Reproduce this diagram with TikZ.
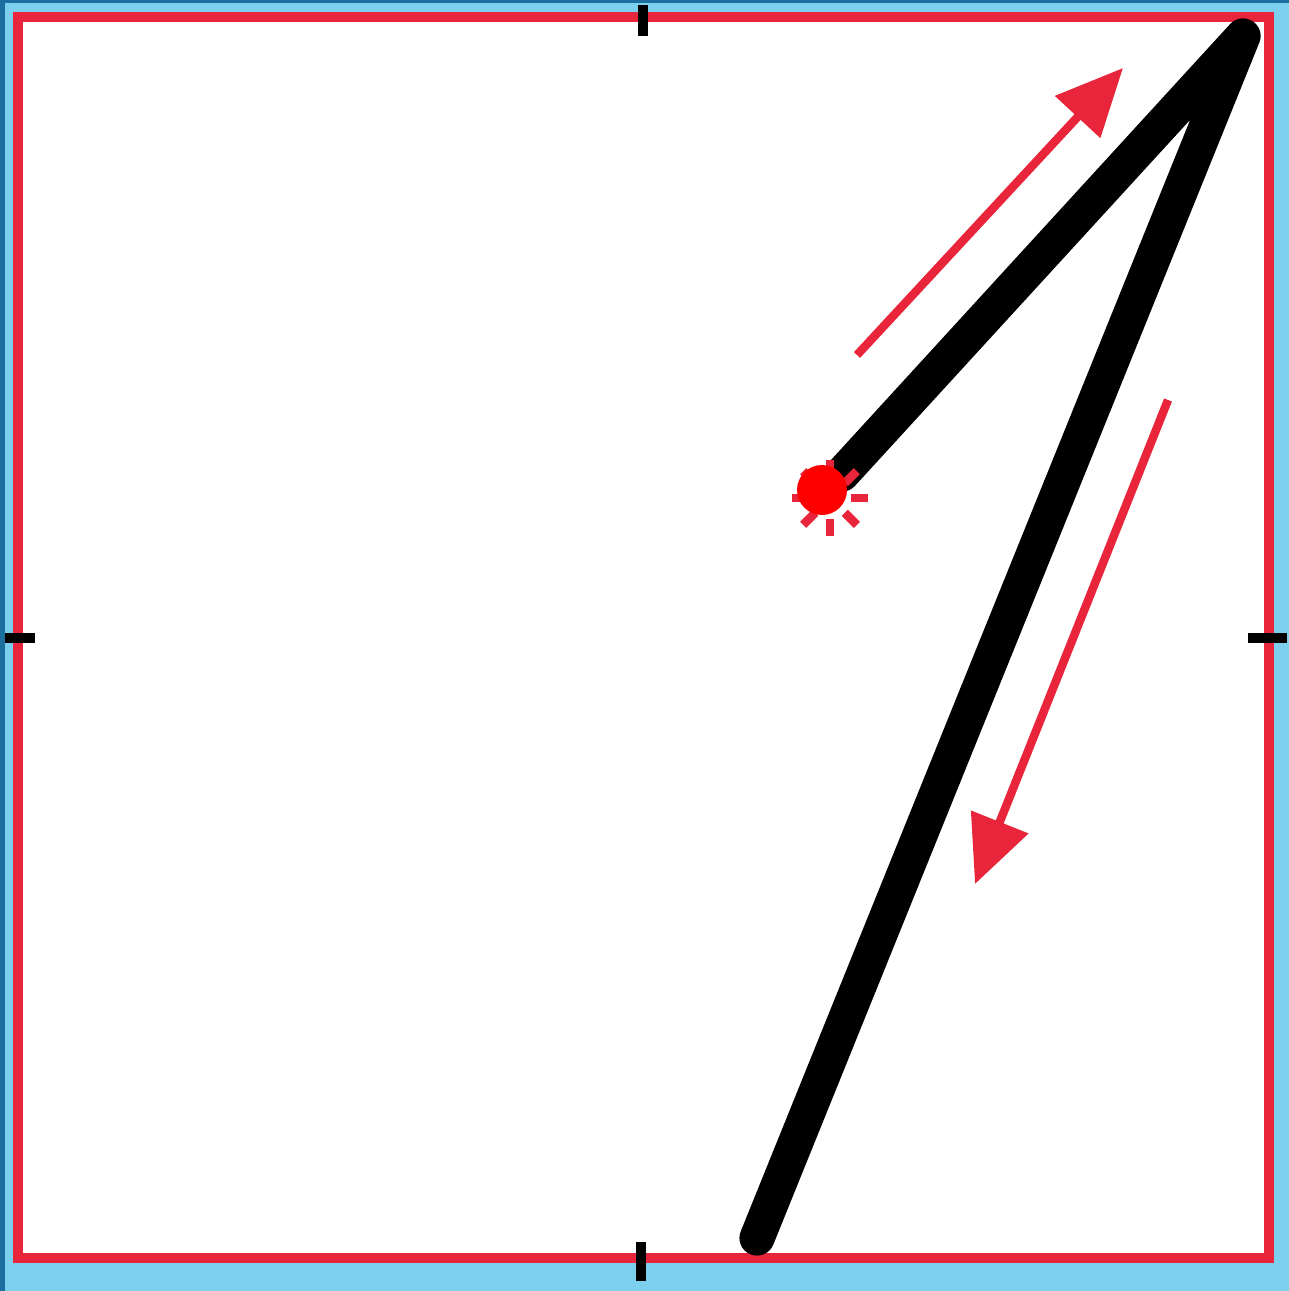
\documentclass[tikz,border=0pt]{standalone}
\usetikzlibrary{arrows.meta,calc}
\definecolor{skyblue}{HTML}{7DCFEE}
\definecolor{deepblue}{HTML}{1B6F9F}
\definecolor{framered}{HTML}{E8253A}
\definecolor{dotred}{HTML}{FF0000}
\tikzset{
  frame/.style={draw=framered, line width=2.8pt, fill=white},
  tick/.style={draw=black, line width=2.7pt},
  stroke/.style={draw=black, line width=10pt, line cap=round, line join=round},
  dirarrow/.style={draw=framered, line width=2.4pt, -{Triangle[length=19pt,width=17pt]}},
  ray/.style={draw=framered, line width=2.5pt},
}
\begin{document}
\begin{tikzpicture}[x=0.01cm,y=-0.01cm]
\useasboundingbox (0,0) rectangle (1289,1291);
\fill[skyblue] (0,0) rectangle (1289,1291);
\fill[deepblue] (0,0) rectangle (5,1291);
\fill[deepblue] (0,0) rectangle (1289,3);
\path[frame] (18,17) rectangle (1269,1258);
% ticks
\draw[tick] (643,5) -- (643,36);
\draw[tick] (641,1242) -- (641,1281);
\draw[tick] (5,638) -- (35,638);
\draw[tick] (1248,638) -- (1287,638);
% coordinates
\coordinate (start) at (842,474);
\coordinate (corner) at (1243,36);
\coordinate (finish) at (757,1238);
\coordinate (sun) at (830,498);
\coordinate (a1s) at (857,355);
\coordinate (a1e) at (1123,68);
\coordinate (a2s) at (1168,400);
\coordinate (a2e) at (975,884);
% stroke path
\draw[stroke] (start) -- (corner) -- (finish);
% direction arrows
\draw[dirarrow] (a1s) -- (a1e);
\draw[dirarrow] (a2s) -- (a2e);
% sun rays
\foreach \a in {0,45,...,315}
  \draw[ray] ($(sun)+(\a:21)$) -- ($(sun)+(\a:38)$);
\fill[dotred] (822,490) circle (25);
\end{tikzpicture}
\end{document}
